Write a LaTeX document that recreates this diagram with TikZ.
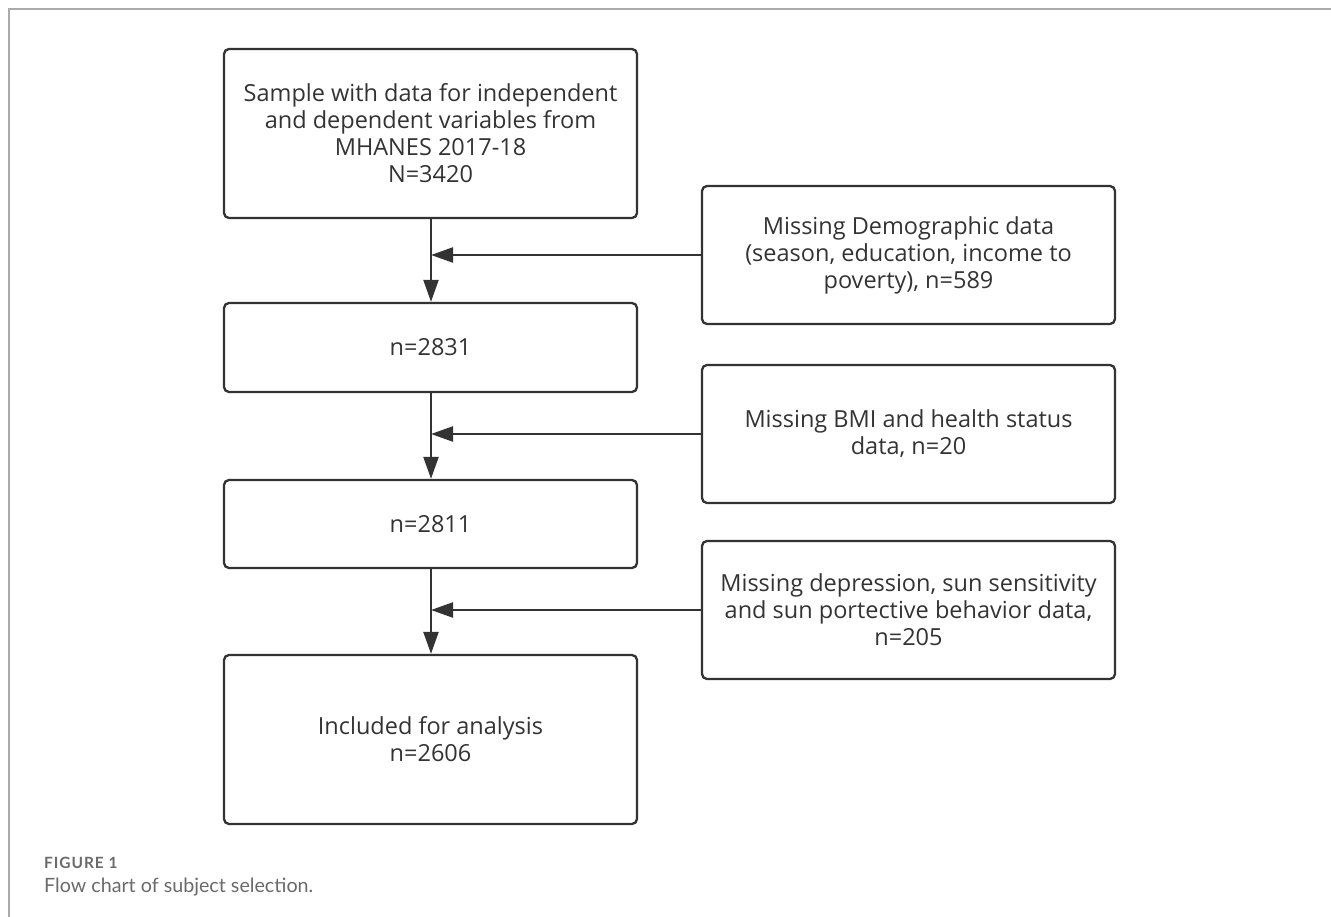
\documentclass[tikz,border=0pt]{standalone}
\usepackage{fontspec}
\setmainfont{Open Sans}
\newfontfamily\capfont{Lato}
\newfontfamily\capfontsp[LetterSpace=6]{Lato}
\usetikzlibrary{arrows.meta}
\definecolor{ln}{HTML}{333333}
\definecolor{frame}{HTML}{AAAAAA}
\definecolor{capc}{HTML}{6A6A6A}
\begin{document}
\begin{tikzpicture}[x=1pt,y=-1pt,
  box/.style={draw=ln,line width=2.3pt,rounded corners=5pt,align=center,inner sep=0pt,text=ln,font=\fontsize{23.5}{27}\selectfont},
  arr/.style={draw=ln,line width=2.3pt,-{Triangle[length=22pt,width=15pt]}}]
\useasboundingbox (0,0) rectangle (1331,917);
\draw[frame,line width=1.5pt] (9,917) -- (9,9) -- (1331,9);
% main boxes
\node[box,minimum width=413pt,minimum height=169pt] (b1) at (430.5,133.5) {Sample with data for independent\\and dependent variables from\\MHANES 2017-18\\N=3420};
\node[box,minimum width=413pt,minimum height=89pt] (b2) at (430.5,347.5) {n=2831};
\node[box,minimum width=413pt,minimum height=88pt] (b3) at (430.5,524) {n=2811};
\node[box,minimum width=413pt,minimum height=169pt] (b4) at (430.5,739.5) {Included for analysis\\n=2606};
% side boxes
\node[box,minimum width=413pt,minimum height=138pt] (s1) at (908.5,255) {Missing Demographic data\\(season, education, income to\\poverty), n=589};
\node[box,minimum width=413pt,minimum height=138pt] (s2) at (908.5,434) {Missing BMI and health status\\data, n=20};
\node[box,minimum width=413pt,minimum height=138pt] (s3) at (908.5,610) {Missing depression, sun sensitivity\\and sun portective behavior data,\\n=205};
% connectors
\coordinate (j1) at (431,255);
\coordinate (j2) at (431,434);
\coordinate (j3) at (431,610);
\draw[arr] (b1.south -| j1) -- (b2.north -| j1);
\draw[arr] (b2.south -| j2) -- (b3.north -| j2);
\draw[arr] (b3.south -| j3) -- (b4.north -| j3);
\draw[arr] (s1.west) -- (j1);
\draw[arr] (s2.west) -- (j2);
\draw[arr] (s3.west) -- (j3);
% caption
\node[anchor=base west,inner sep=0pt,text=capc,font=\capfontsp\bfseries\fontsize{15.5}{18}\selectfont] (cap1) at (44,868) {FIGURE 1};
\node[anchor=base west,inner sep=0pt,text=capc,font=\capfont\fontsize{19.7}{22}\selectfont] (cap2) at (44,892) {Flow chart of subject selection.};
\end{tikzpicture}
\end{document}
